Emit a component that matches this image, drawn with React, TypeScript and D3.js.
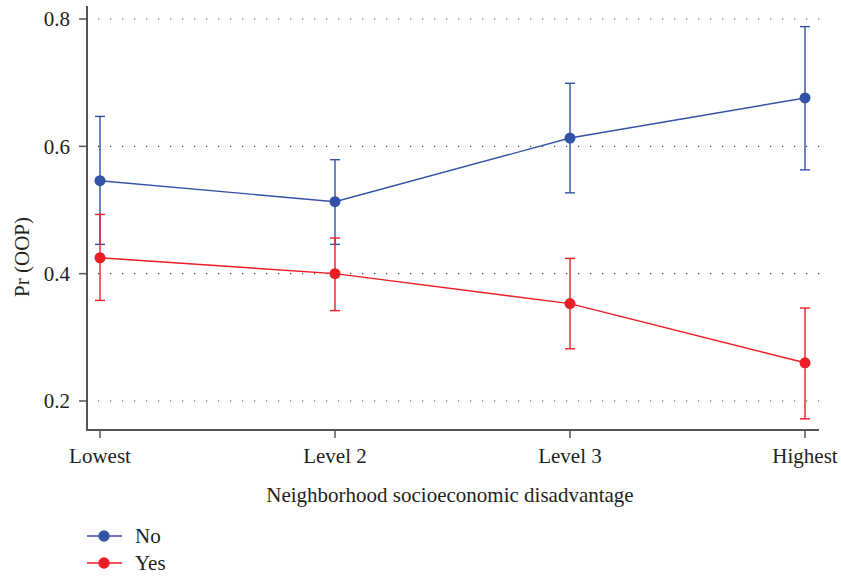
import React from "react";
import * as d3 from "d3";

const categories = ["Lowest", "Level 2", "Level 3", "Highest"];
const noValues = [0.546, 0.513, 0.613, 0.676];
const noLower = [0.446, 0.446, 0.527, 0.563];
const noUpper = [0.647, 0.579, 0.699, 0.788];
const yesValues = [0.425, 0.4, 0.353, 0.26];
const yesLower = [0.358, 0.342, 0.282, 0.172];
const yesUpper = [0.493, 0.456, 0.424, 0.346];
const yTicks = [0.2, 0.4, 0.6, 0.8];

const W = 841;
const H = 576;
const FONT = "'Liberation Serif', 'DejaVu Serif', serif";
const FS = 21;
const BLUE = "#3152a6";
const RED = "#ee1c25";
const AXIS = "#555";
const TEXT = "#231f20";

export default function App() {
  const x = d3.scalePoint<string>().domain(categories).range([100, 805]);
  const y = d3.scaleLinear().domain([0.2, 0.8]).range([401, 19]);

  const series = [
    { name: "No", color: BLUE, v: noValues, lo: noLower, hi: noUpper },
    { name: "Yes", color: RED, v: yesValues, lo: yesLower, hi: yesUpper },
  ];

  const line = d3
    .line<number>()
    .x((_, i) => x(categories[i]) as number)
    .y((d) => y(d));

  return (
    <svg width={W} height={H} style={{ position: "absolute", left: 0, top: 0, background: "#fff" }}>
      {/* grid */}
      {yTicks.map((t) => (
        <line key={t} x1={98} x2={820} y1={y(t)} y2={y(t)} stroke="#444" strokeWidth={1.2} strokeDasharray="1.2 10.8" />
      ))}
      {/* axes */}
      <line x1={87} x2={87} y1={6} y2={431} stroke={AXIS} strokeWidth={2} />
      <line x1={86} x2={819} y1={430} y2={430} stroke={AXIS} strokeWidth={2} />
      {yTicks.map((t) => (
        <g key={t}>
          <line x1={79} x2={87} y1={y(t)} y2={y(t)} stroke={AXIS} strokeWidth={1.5} />
          <text x={70} y={y(t)} dy="0.35em" textAnchor="end" fontFamily={FONT} fontSize={FS} fill={TEXT}>
            {t.toFixed(1)}
          </text>
        </g>
      ))}
      {categories.map((c) => (
        <g key={c}>
          <line x1={x(c)} x2={x(c)} y1={430} y2={438} stroke={AXIS} strokeWidth={1.5} />
          <text x={x(c)} y={463} textAnchor="middle" fontFamily={FONT} fontSize={FS} fill={TEXT}>
            {c}
          </text>
        </g>
      ))}
      <text x={450} y={502} textAnchor="middle" fontFamily={FONT} fontSize={FS} fill={TEXT}>
        Neighborhood socioeconomic disadvantage
      </text>
      <text
        transform={`translate(29,257) rotate(-90)`}
        textAnchor="middle"
        fontFamily={FONT}
        fontSize={FS}
        fill={TEXT}
      >
        Pr (OOP)
      </text>
      {/* series */}
      {series.map((s) => (
        <g key={s.name}>
          {s.v.map((_, i) => {
            const cx = x(categories[i]) as number;
            return (
              <g key={i}>
                <line x1={cx} x2={cx} y1={y(s.lo[i])} y2={y(s.hi[i])} stroke={s.color} strokeWidth={1.4} />
                <line x1={cx - 5} x2={cx + 5} y1={y(s.lo[i])} y2={y(s.lo[i])} stroke={s.color} strokeWidth={1.4} />
                <line x1={cx - 5} x2={cx + 5} y1={y(s.hi[i])} y2={y(s.hi[i])} stroke={s.color} strokeWidth={1.4} />
              </g>
            );
          })}
          <path d={line(s.v) as string} fill="none" stroke={s.color} strokeWidth={1.4} />
          {s.v.map((v, i) => (
            <circle key={i} cx={x(categories[i]) as number} cy={y(v)} r={5.5} fill={s.color} />
          ))}
        </g>
      ))}
      {/* legend */}
      {series.map((s, i) => {
        const ly = 536 + i * 27;
        return (
          <g key={s.name}>
            <line x1={87} x2={122} y1={ly} y2={ly} stroke={s.color} strokeWidth={1.4} />
            <circle cx={104} cy={ly} r={5.7} fill={s.color} />
            <text x={135} y={ly} dy="0.35em" fontFamily={FONT} fontSize={FS} fill={TEXT}>
              {s.name}
            </text>
          </g>
        );
      })}
    </svg>
  );
}
